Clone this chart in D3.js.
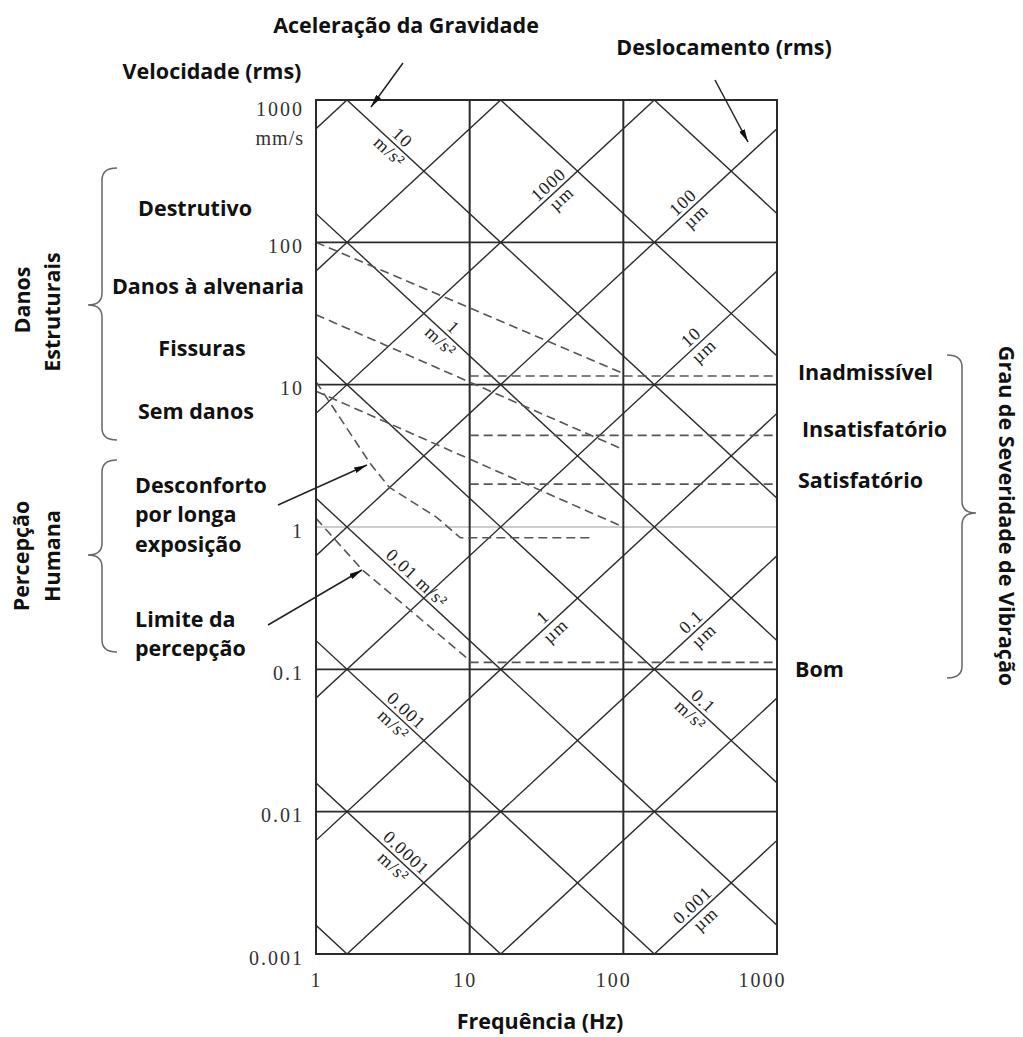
<!DOCTYPE html>
<html>
<head>
<meta charset="utf-8">
<script src="https://cdn.jsdelivr.net/npm/d3@7"></script>
<style>
  body { margin: 0; background: #fff; }
</style>
</head>
<body>
<div id="chart"></div>
<script>
// eixos (log-log)
var freqTicks = [1, 10, 100, 1000];
var freqTickLabels = ["1", "10", "100", "1000"];
var velTicks = [0.001, 0.01, 0.1, 1, 10, 100, 1000];
var velTickLabels = ["0.001", "0.01", "0.1", "1", "10", "100", "1000"];

// linhas de aceleracao constante (m/s²) e deslocamento constante (µm)
var accLevels = [1e-5, 1e-4, 1e-3, 1e-2, 1e-1, 1, 10, 100, 1000];
var dispLevels = [0.001, 0.01, 0.1, 1, 10, 100, 1000, 10000, 100000];

// rotulos das diagonais: valor, texto de cima, texto de baixo, frequencia onde fica
var accLabelValues = [10, 1, 0.01, 0.001, 0.0001, 0.1];
var accLabelTop = ["10", "1", "0.01 m/s²", "0.001", "0.0001", "0.1"];
var accLabelBottom = ["m/s²", "m/s²", "", "m/s²", "m/s²", "m/s²"];
var accLabelFreq = [3.3, 7.1, 4.1, 3.5, 3.5, 300];

var dispLabelValues = [1000, 100, 10, 1, 0.1, 0.001];
var dispLabelTop = ["1000", "100", "10", "1", "0.1", "0.001"];
var dispLabelFreq = [36, 270, 305, 33, 305, 312];

// curvas tracejadas [frequencia Hz, velocidade mm/s]
var damageCurves = [
  [[1, 100], [100, 12]],
  [[1, 31], [100, 3.5]],
  [[1, 9], [100, 1.0]]
];
var discomfortCurve = [[1, 10.5], [2.25, 2.8], [3.0, 1.9], [6.1, 1.17], [8.7, 0.84], [64, 0.84]];
var perceptionCurve = [[1, 1.15], [2.0, 0.5], [9.6, 0.12], [10, 0.112]];

// grau de severidade (linhas horizontais de 10 a 1000 Hz)
var severityLevels = [11.5, 4.4, 2.0, 0.112];
var severityLabels = ["Inadmissível", "Insatisfatório", "Satisfatório", "Bom"];

var width = 1023, height = 1037;
var svg = d3.select("#chart").append("svg")
  .attr("width", width)
  .attr("height", height);

var x = d3.scaleLog().domain([1, 1000]).range([316, 777]);
var y = d3.scaleLog().domain([0.001, 1000]).range([954, 100]);

var serif = "'Liberation Serif', 'DejaVu Serif', serif";
var sans = "'Open Sans', 'Noto Sans', sans-serif";

var defs = svg.append("defs");
defs.append("clipPath").attr("id", "plotclip")
  .append("rect")
  .attr("x", x(1)).attr("y", y(1000))
  .attr("width", x(1000) - x(1)).attr("height", y(0.001) - y(1000));

defs.append("marker")
  .attr("id", "arrow")
  .attr("viewBox", "0 0 13 6")
  .attr("refX", 13).attr("refY", 3)
  .attr("markerWidth", 13).attr("markerHeight", 6)
  .attr("markerUnits", "userSpaceOnUse")
  .attr("orient", "auto")
  .append("path")
  .attr("d", "M0,0 L13,3 L0,6 Z")
  .attr("fill", "#111");

// grade
var grid = svg.append("g");
grid.selectAll("line.h").data(velTicks).enter().append("line")
  .attr("x1", x(1)).attr("x2", x(1000))
  .attr("y1", function(d) { return y(d); })
  .attr("y2", function(d) { return y(d); })
  .attr("stroke", function(d) { return d === 1 ? "#999" : "#2a2a2a"; })
  .attr("stroke-width", function(d) { return d === 1 ? 1 : 1.8; });
grid.selectAll("line.v").data(freqTicks).enter().append("line")
  .attr("y1", y(1000)).attr("y2", y(0.001))
  .attr("x1", function(d) { return x(d); })
  .attr("x2", function(d) { return x(d); })
  .attr("stroke", "#2a2a2a")
  .attr("stroke-width", 2);

// diagonais
var line = d3.line().x(function(d) { return x(d[0]); }).y(function(d) { return y(d[1]); });
var diag = svg.append("g").attr("clip-path", "url(#plotclip)");
function accVel(a, f) { return 1000 * a / (2 * Math.PI * f); }
function dispVel(d, f) { return 2 * Math.PI * f * d / 1000; }

diag.selectAll("path.acc").data(accLevels).enter().append("path")
  .attr("d", function(a) { return line([[0.1, accVel(a, 0.1)], [10000, accVel(a, 10000)]]); })
  .attr("fill", "none").attr("stroke", "#2b2b2b").attr("stroke-width", 1.4);
diag.selectAll("path.disp").data(dispLevels).enter().append("path")
  .attr("d", function(dd) { return line([[0.1, dispVel(dd, 0.1)], [10000, dispVel(dd, 10000)]]); })
  .attr("fill", "none").attr("stroke", "#2b2b2b").attr("stroke-width", 1.4);

// angulo das diagonais em pixels
var angAcc = Math.atan2(y(0.1) - y(1), x(10) - x(1)) * 180 / Math.PI;

var labels = svg.append("g")
  .attr("font-family", serif).attr("font-size", 18).attr("fill", "#222")
  .attr("letter-spacing", 1).attr("text-anchor", "middle");

accLabelValues.forEach(function(a, i) {
  var f = accLabelFreq[i];
  var g = labels.append("g")
    .attr("transform", "translate(" + x(f) + "," + y(accVel(a, f)) + ") rotate(" + angAcc + ")");
  g.append("text").attr("y", -4).text(accLabelTop[i]);
  if (accLabelBottom[i]) g.append("text").attr("y", 15).text(accLabelBottom[i]);
});
dispLabelValues.forEach(function(dd, i) {
  var f = dispLabelFreq[i];
  var g = labels.append("g")
    .attr("transform", "translate(" + x(f) + "," + y(dispVel(dd, f)) + ") rotate(" + (-angAcc) + ")");
  g.append("text").attr("y", -4).text(dispLabelTop[i]);
  g.append("text").attr("y", 15).text("µm");
});

// curvas tracejadas
var dashed = svg.append("g")
  .attr("fill", "none").attr("stroke", "#555").attr("stroke-width", 1.6)
  .attr("stroke-dasharray", "9,5");
dashed.selectAll("path.dmg").data(damageCurves).enter().append("path")
  .attr("d", line);
dashed.append("path").attr("d", line(discomfortCurve));
dashed.append("path").attr("d", line(perceptionCurve));
dashed.selectAll("line.sev").data(severityLevels).enter().append("line")
  .attr("x1", x(10)).attr("x2", x(1000))
  .attr("y1", function(d) { return y(d); })
  .attr("y2", function(d) { return y(d); });

// contorno
svg.append("rect")
  .attr("x", x(1)).attr("y", y(1000))
  .attr("width", x(1000) - x(1)).attr("height", y(0.001) - y(1000))
  .attr("fill", "none").attr("stroke", "#2a2a2a").attr("stroke-width", 2);

// eixos
var yAxis = svg.append("g")
  .attr("transform", "translate(" + (x(1) - 12) + ",0)")
  .call(d3.axisLeft(y).tickValues(velTicks)
    .tickFormat(function(d, i) { return velTickLabels[i]; })
    .tickSize(0).tickPadding(0));
yAxis.select(".domain").remove();
yAxis.selectAll("text")
  .attr("font-family", serif).attr("font-size", 20).attr("fill", "#333")
  .attr("letter-spacing", 2)
  .attr("dy", function(d) { return d === 1000 ? 15 : 10; });
yAxis.append("text")
  .attr("x", 0).attr("y", y(1000) + 45)
  .attr("text-anchor", "end")
  .attr("font-family", serif).attr("font-size", 20).attr("fill", "#333")
  .attr("letter-spacing", 1)
  .text("mm/s");

var xAxis = svg.append("g")
  .attr("transform", "translate(0," + (y(0.001) + 20) + ")")
  .call(d3.axisBottom(x).tickValues(freqTicks)
    .tickFormat(function(d, i) { return freqTickLabels[i]; })
    .tickSize(0).tickPadding(0));
xAxis.select(".domain").remove();
xAxis.selectAll("text")
  .attr("font-family", serif).attr("font-size", 20).attr("fill", "#333")
  .attr("letter-spacing", 2)
  .attr("dy", 13)
  .attr("dx", function(d, i) { return -(freqTickLabels[i].length - 1) * 5; });

// textos
var ann = svg.append("g")
  .attr("font-family", sans).attr("font-weight", "bold").attr("font-size", 21.5).attr("fill", "#111");

function txt(s, px, py, anchor) {
  return ann.append("text").attr("x", px).attr("y", py)
    .attr("text-anchor", anchor || "middle").text(s);
}
txt("Aceleração da Gravidade", 406, 33);
txt("Velocidade (rms)", 212, 79);
txt("Deslocamento (rms)", 724, 55);
txt("Destrutivo", 195, 216);
txt("Danos à alvenaria", 208, 294);
txt("Fissuras", 202, 356);
txt("Sem danos", 196, 419);
txt("Desconforto", 135, 493, "start");
txt("por longa", 135, 522, "start");
txt("exposição", 135, 552, "start");
txt("Limite da", 135, 627, "start");
txt("percepção", 135, 656, "start");
var sevX = [798, 802, 798, 795];
var sevY = [380, 437, 488, 677];
severityLabels.forEach(function(s, i) { txt(s, sevX[i], sevY[i], "start"); });
txt("Frequência (Hz)", 540, 1029);

function vtxt(s, px, py, rot, size) {
  return ann.append("text")
    .attr("transform", "translate(" + px + "," + py + ") rotate(" + rot + ")")
    .attr("font-size", size || 21.5)
    .attr("text-anchor", "middle").text(s);
}
vtxt("Danos", 30, 300, -90);
vtxt("Estruturais", 60, 312, -90);
vtxt("Percepção", 29, 556, -90);
vtxt("Humana", 60, 556, -90);
vtxt("Grau de Severidade de Vibração", 999, 516, 90, 21.5);

// chaves
function leftBrace(xs, y0, y1, ym) {
  return "M" + (xs + 15) + "," + y0 + " Q" + xs + "," + y0 + " " + xs + "," + (y0 + 12) +
    " L" + xs + "," + (ym - 12) + " Q" + xs + "," + ym + " " + (xs - 14) + "," + ym +
    " Q" + xs + "," + ym + " " + xs + "," + (ym + 12) +
    " L" + xs + "," + (y1 - 12) + " Q" + xs + "," + y1 + " " + (xs + 15) + "," + y1;
}
function rightBrace(xs, y0, y1, ym) {
  return "M" + (xs - 15) + "," + y0 + " Q" + xs + "," + y0 + " " + xs + "," + (y0 + 12) +
    " L" + xs + "," + (ym - 12) + " Q" + xs + "," + ym + " " + (xs + 14) + "," + ym +
    " Q" + xs + "," + ym + " " + xs + "," + (ym + 12) +
    " L" + xs + "," + (y1 - 12) + " Q" + xs + "," + y1 + " " + (xs - 15) + "," + y1;
}
var braces = svg.append("g").attr("fill", "none").attr("stroke", "#666").attr("stroke-width", 1.5);
braces.append("path").attr("d", leftBrace(102, 168, 440, 305));
braces.append("path").attr("d", leftBrace(102, 460, 652, 555));
braces.append("path").attr("d", rightBrace(962, 355, 678, 513));

// setas
var arrows = [
  [403, 63, 371, 107],
  [715, 80, 748, 142],
  [278, 505, 367, 465],
  [268, 625, 362, 570]
];
svg.append("g").selectAll("line").data(arrows).enter().append("line")
  .attr("x1", function(d) { return d[0]; }).attr("y1", function(d) { return d[1]; })
  .attr("x2", function(d) { return d[2]; }).attr("y2", function(d) { return d[3]; })
  .attr("stroke", "#222").attr("stroke-width", 1.5)
  .attr("marker-end", "url(#arrow)");
</script>
</body>
</html>
